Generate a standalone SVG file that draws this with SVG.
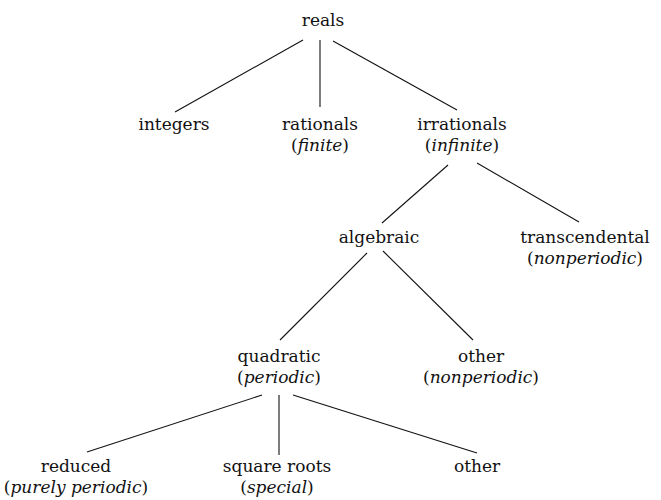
<svg xmlns="http://www.w3.org/2000/svg" width="661" height="500" viewBox="0 0 661 500">
<style>
text{font-family:"DejaVu Serif","Liberation Serif",serif;font-size:17px;fill:#111;text-anchor:middle}
.i{font-style:italic}
.e line{stroke:#111;stroke-width:1.1}
</style>
<rect width="661" height="500" fill="#fff"/>
<g class="e" id="connectors">
<line x1="303" y1="40" x2="175" y2="112"/>
<line x1="320" y1="40" x2="320" y2="107"/>
<line x1="333" y1="41" x2="457" y2="110"/>
<line x1="448" y1="165" x2="382" y2="223"/>
<line x1="477" y1="163" x2="579" y2="222"/>
<line x1="367" y1="253" x2="280" y2="340"/>
<line x1="383" y1="251" x2="473" y2="340"/>
<line x1="262" y1="395" x2="87" y2="452"/>
<line x1="279" y1="395" x2="279" y2="455"/>
<line x1="293" y1="395" x2="477" y2="453"/>
</g>
<g id="reals"><text x="323" y="26">reals</text></g>
<g id="integers"><text x="174" y="130">integers</text></g>
<g id="rationals"><text x="320" y="130">rationals</text><text x="320" y="151">(<tspan class="i">finite</tspan>)</text></g>
<g id="irrationals"><text x="462" y="130">irrationals</text><text x="462" y="151">(<tspan class="i">infinite</tspan>)</text></g>
<g id="algebraic"><text x="379" y="243">algebraic</text></g>
<g id="transcendental"><text x="585" y="243">transcendental</text><text x="585" y="264">(<tspan class="i">nonperiodic</tspan>)</text></g>
<g id="quadratic"><text x="279" y="362">quadratic</text><text x="279" y="383">(<tspan class="i">periodic</tspan>)</text></g>
<g id="other-algebraic"><text x="481" y="362">other</text><text x="481" y="383">(<tspan class="i">nonperiodic</tspan>)</text></g>
<g id="reduced"><text x="76" y="472">reduced</text><text x="76" y="493">(<tspan class="i">purely periodic</tspan>)</text></g>
<g id="square-roots"><text x="277" y="472">square roots</text><text x="277" y="493">(<tspan class="i">special</tspan>)</text></g>
<g id="other-quadratic"><text x="477" y="472">other</text></g>
</svg>
